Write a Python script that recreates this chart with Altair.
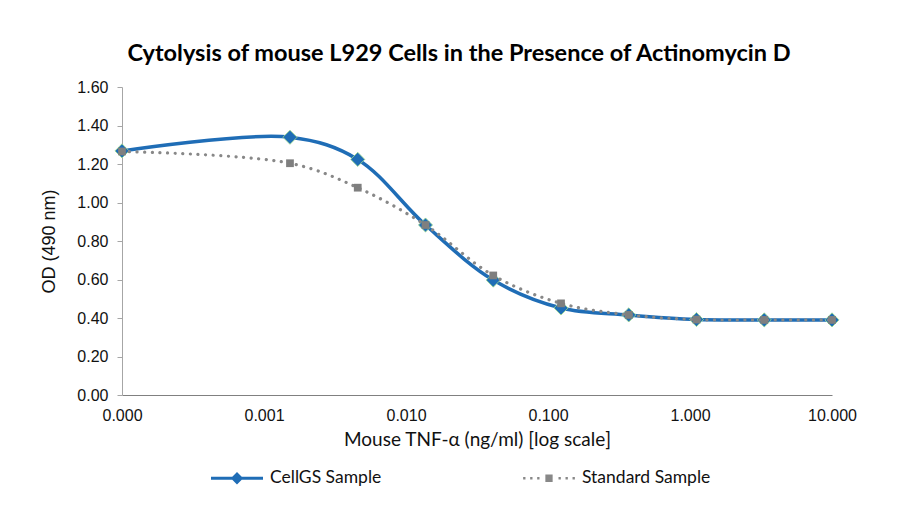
import altair as alt
import pandas as pd

# Data
conc = [0.0001, 0.001524, 0.004572, 0.01372, 0.04115, 0.1235, 0.3704, 1.111, 3.333, 10.0]
cellgs = [1.268, 1.339, 1.224, 0.883, 0.597, 0.452, 0.416, 0.392, 0.390, 0.390]
standard = [1.265, 1.204, 1.077, 0.883, 0.621, 0.476, 0.416, 0.392, 0.390, 0.390]
series_names = ["CellGS Sample", "Standard Sample"]
x_ticks = [0.0001, 0.001, 0.01, 0.1, 1, 10]
y_ticks = [0, 0.2, 0.4, 0.6, 0.8, 1.0, 1.2, 1.4, 1.6]

BLUE = "#1f6db6"
GRAY = "#888888"

df_a = pd.DataFrame({"conc": conc, "od": cellgs, "series": series_names[0]})
df_b = pd.DataFrame({"conc": conc, "od": standard, "series": series_names[1]})
df_all = pd.concat([df_a, df_b], ignore_index=True)

x_enc = alt.X(
    "conc:Q",
    scale=alt.Scale(type="log", domain=[0.0001, 10], nice=False),
    axis=alt.Axis(
        values=x_ticks, format=".3f", title="Mouse TNF-α (ng/ml) [log scale]",
        grid=False, ticks=False, labelPadding=12, labelFontSize=16,
        labelFont="Liberation Sans", labelColor="#111", domainColor="#808080",
        titleFont="Lato", titleFontSize=19, titleFontWeight="normal",
        titleColor="#111", titlePadding=7, labelFlush=False,
    ),
)
y_enc = alt.Y(
    "od:Q",
    scale=alt.Scale(domain=[0, 1.6], nice=False),
    axis=alt.Axis(
        values=y_ticks, format=".2f", title="OD (490 nm)", grid=False,
        tickSize=5, tickColor="#a6a6a6", domainColor="#a6a6a6",
        labelPadding=9, labelFontSize=16, labelFont="Liberation Sans",
        labelColor="#111", titleFont="Liberation Sans", titleFontSize=18,
        titleFontWeight="normal", titleColor="#111", titlePadding=18,
    ),
)

line_a = alt.Chart(df_a).mark_line(
    color=BLUE, strokeWidth=3.5, interpolate="catmull-rom"
).encode(x=x_enc, y=y_enc)
pts_a = alt.Chart(df_a).mark_point(
    shape="diamond", filled=True, color=BLUE, size=200, opacity=1,
    stroke="#9fdc8a", strokeWidth=0.8
).encode(x=x_enc, y=y_enc)
line_b = alt.Chart(df_b).mark_line(
    color=GRAY, strokeWidth=3.2, strokeDash=[0.1, 7.5], strokeCap="round",
    interpolate="catmull-rom"
).encode(x=x_enc, y=y_enc)
pts_b = alt.Chart(df_b).mark_point(
    shape="square", filled=True, color="#7f7f7f", size=60, opacity=1
).encode(x=x_enc, y=y_enc)

# legend symbols: line + marker drawn as custom paths
sym_a = "M-1,-0.058H1V0.058H-1Z M0,-0.24L0.24,0L0,0.24L-0.24,0Z"
dots = ""
for cx in [-0.95, -0.68, -0.41, 0.41, 0.68, 0.95]:
    dots += f"M{cx-0.045:.3f},-0.045H{cx+0.045:.3f}V0.045H{cx-0.045:.3f}Z "
sym_b = dots + "M-0.14,-0.14H0.14V0.14H-0.14Z"

legend_layer = alt.Chart(df_all).mark_point(filled=True, opacity=0, size=1).encode(
    x=x_enc, y=y_enc,
    color=alt.Color("series:N", scale=alt.Scale(domain=series_names, range=[BLUE, GRAY]),
                    legend=alt.Legend(title=None)),
    shape=alt.Shape("series:N", scale=alt.Scale(domain=series_names, range=[sym_a, sym_b]),
                    legend=alt.Legend(title=None)),
)

chart = alt.layer(line_a, pts_a, line_b, pts_b, legend_layer).properties(
    width=710, height=308,
    padding={"left": 114, "top": 79, "right": 70, "bottom": 112},
    autosize=alt.AutoSizeParams(type="none"),
    title=alt.TitleParams(
        "Cytolysis of mouse L929 Cells in the Presence of Actinomycin D",
        font="Lato", fontSize=23.5, fontWeight="bold", color="#000",
        anchor="middle", frame="group", dx=-18, offset=14,
    ),
).configure_view(stroke=None).configure_legend(
    orient="none", legendX=89, legendY=365, direction="horizontal",
    symbolSize=2704, symbolOpacity=1, symbolStrokeWidth=0,
    labelFont="Lato", labelFontSize=17.5, labelColor="#111",
    columnPadding=141, labelOffset=7, labelLimit=300,
)

chart.save("out.html", embed_options={"renderer": "svg", "actions": False})
